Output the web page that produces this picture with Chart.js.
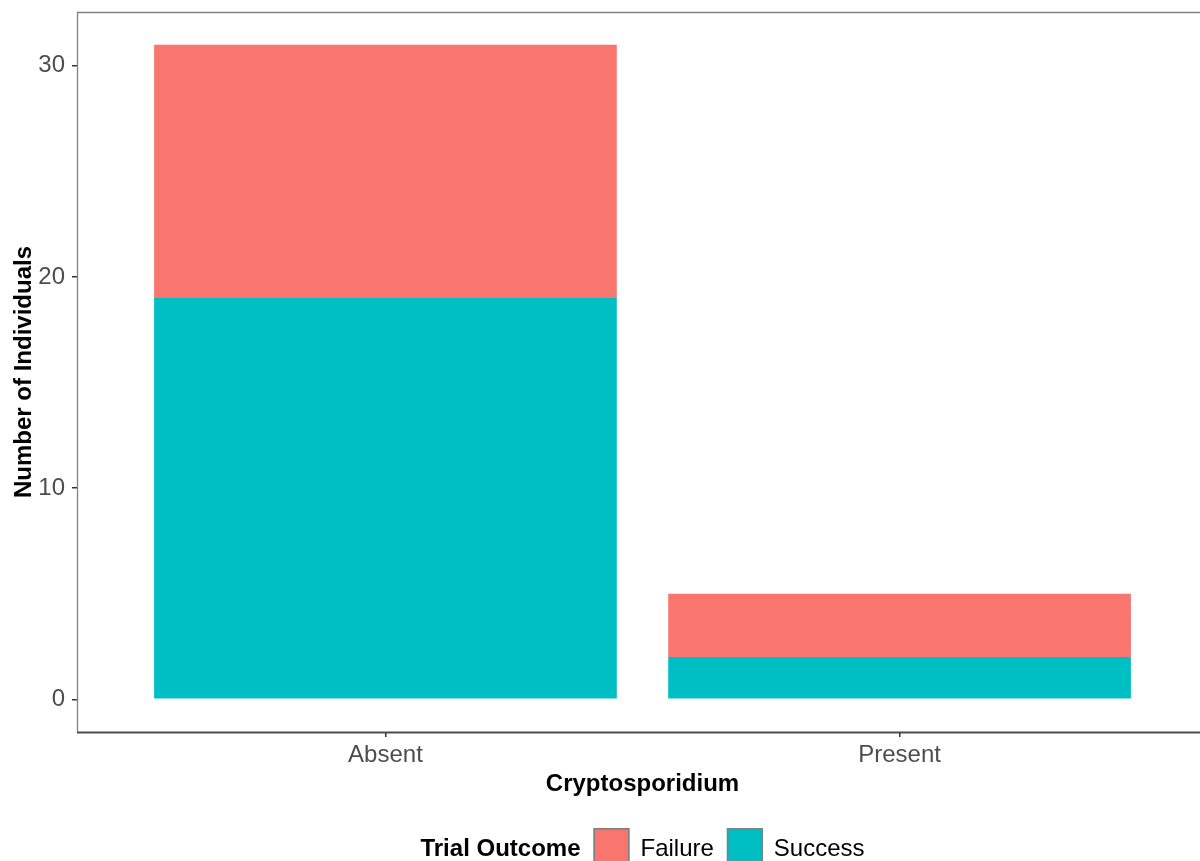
<!DOCTYPE html>
<html>
<head>
<meta charset="utf-8">
<script src="https://cdn.jsdelivr.net/npm/chart.js@4.4.0/dist/chart.umd.min.js"></script>
<style>
  html, body { margin:0; padding:0; background:#fff; overflow:hidden; }
  #wrap { width:1208px; height:861px; position:relative; }
</style>
</head>
<body>
<div id="wrap"><canvas id="grafico"></canvas></div>
<script>
// ===============================
// DATA
// ===============================
const categorias = ["Absent", "Present"];
const posicoes = [1, 2];
const sucesso = [19, 2];
const falha = [12, 3];
const yTicks = [0, 10, 20, 30];

const tituloLegenda = "Trial Outcome";
const FONTE = "'Liberation Sans', Arial, sans-serif";
const COR_FALHA = "#F8766D";
const COR_SUCESSO = "#00BFC4";


// ===============================
// FRAME (panel lines)
// ===============================
const molduraPlugin = {
  id: "moldura",
  afterDraw(chart){
    const { ctx, chartArea: a } = chart;
    ctx.save();
    ctx.strokeStyle = "#808080";
    ctx.lineWidth = 1.3;
    ctx.beginPath();
    ctx.moveTo(a.left + 0.5, a.bottom);
    ctx.lineTo(a.left + 0.5, a.top + 0.5);
    ctx.lineTo(a.right, a.top + 0.5);
    ctx.stroke();

    ctx.strokeStyle = "#4D4D4D";
    ctx.lineWidth = 2;
    ctx.beginPath();
    ctx.moveTo(a.left, a.bottom + 0.5);
    ctx.lineTo(a.right, a.bottom + 0.5);
    ctx.stroke();
    ctx.restore();
  }
};


// ===============================
// LEGEND (bottom, inline title)
// ===============================
const legendaPlugin = {
  id: "legenda",
  afterDraw(chart){
    const { ctx, chartArea: a } = chart;
    const itens = [
      { label: chart.data.datasets[1].label, cor: chart.data.datasets[1].backgroundColor },
      { label: chart.data.datasets[0].label, cor: chart.data.datasets[0].backgroundColor }
    ];
    const box = 36, gap1 = 13, gap2 = 11;

    ctx.save();
    ctx.font = "bold 24px " + FONTE;
    const wTitulo = ctx.measureText(tituloLegenda).width;
    ctx.font = "24px " + FONTE;
    itens.forEach(it => it.w = ctx.measureText(it.label).width);

    const total = wTitulo + itens.reduce((s, it) => s + gap1 + box + gap2 + it.w, 0);
    let x = (a.left + a.right) / 2 - total / 2;
    const yMeio = 849;
    const yBox = 828;

    ctx.textBaseline = "middle";
    ctx.textAlign = "left";
    ctx.fillStyle = "#000";
    ctx.font = "bold 24px " + FONTE;
    ctx.fillText(tituloLegenda, x, yMeio);
    x += wTitulo;

    ctx.font = "24px " + FONTE;
    itens.forEach(it => {
      x += gap1;
      ctx.fillStyle = it.cor;
      ctx.fillRect(x, yBox, box, box);
      ctx.strokeStyle = "#7F7F7F";
      ctx.lineWidth = 1.5;
      ctx.strokeRect(x + 0.75, yBox + 0.75, box - 1.5, box - 1.5);
      x += box + gap2;
      ctx.fillStyle = "#000";
      ctx.fillText(it.label, x, yMeio);
      x += it.w;
    });
    ctx.restore();
  }
};


// ===============================
// CHART
// ===============================
function criarGrafico(){
  const ctx = document.getElementById("grafico");

  new Chart(ctx, {
    type: "bar",
    data: {
      datasets: [
        {
          label: "Success",
          data: posicoes.map((p, i) => ({ x: p, y: sucesso[i] })),
          backgroundColor: COR_SUCESSO,
          borderWidth: 0
        },
        {
          label: "Failure",
          data: posicoes.map((p, i) => ({ x: p, y: falha[i] })),
          backgroundColor: COR_FALHA,
          borderWidth: 0
        }
      ]
    },
    options: {
      responsive: true,
      maintainAspectRatio: false,
      animation: false,
      barPercentage: 0.9,
      categoryPercentage: 1,
      layout: { padding: { top: 12, bottom: 50, left: 0, right: 0 } },
      plugins: {
        legend: { display: false },
        tooltip: { enabled: false }
      },
      scales: {
        x: {
          type: "linear",
          min: 0.4,
          max: 2.6,
          offset: false,
          stacked: true,
          afterBuildTicks: s => { s.ticks = posicoes.map(v => ({ value: v })); },
          afterFit: s => { s.height = 79; s.paddingLeft = 0; s.paddingRight = 0; },
          ticks: {
            callback: v => categorias[posicoes.indexOf(v)] ?? "",
            color: "#4D4D4D",
            font: { size: 24, family: FONTE },
            padding: 4,
            maxRotation: 0,
            autoSkip: false
          },
          grid: { offset: false, drawOnChartArea: false, drawTicks: true, tickLength: 5, color: "#333", lineWidth: 1.5 },
          border: { display: false },
          title: {
            display: true,
            text: "Cryptosporidium",
            color: "#000",
            font: { size: 24, weight: "bold", family: FONTE },
            padding: { top: 0, bottom: 12 }
          }
        },
        y: {
          type: "linear",
          min: -1.55,
          max: 32.55,
          stacked: true,
          afterBuildTicks: s => { s.ticks = yTicks.map(v => ({ value: v })); },
          afterFit: s => { s.width = 77; s.paddingTop = 0; s.paddingBottom = 0; },
          ticks: {
            color: "#4D4D4D",
            font: { size: 24, family: FONTE },
            padding: 7
          },
          grid: { drawOnChartArea: false, drawTicks: true, tickLength: 5, color: "#333", lineWidth: 1.5 },
          border: { display: false },
          title: {
            display: true,
            text: "Number of Individuals",
            color: "#000",
            font: { size: 24, weight: "bold", family: FONTE },
            padding: { top: 10, bottom: 0 }
          }
        }
      }
    },
    plugins: [molduraPlugin, legendaPlugin]
  });
}


// ===============================
// INIT
// ===============================
document.addEventListener("DOMContentLoaded", criarGrafico);
</script>
</body>
</html>
